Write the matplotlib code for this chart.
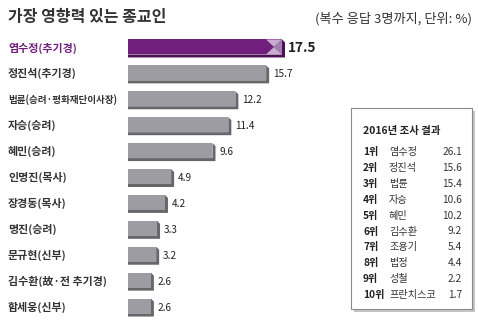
import matplotlib
matplotlib.use("Agg")
import matplotlib.pyplot as plt
from matplotlib.patches import Polygon, Rectangle

plt.rcParams['font.family'] = ['Noto Sans CJK KR', 'DejaVu Sans']

# 2020 survey: most influential religious figures (multiple answers, %)
names = ['염수정(추기경)', '정진석(추기경)', '법륜(승려·평화재단이사장)', '자승(승려)', '혜민(승려)',
         '인명진(목사)', '장경동(목사)', '명진(승려)', '문규현(신부)', '김수환(故·전 추기경)', '함세웅(신부)']
values = [17.5, 15.7, 12.2, 11.4, 9.6, 4.9, 4.2, 3.3, 3.2, 2.6, 2.6]

# 2016 survey results for the side table
ranks_2016 = ['1위', '2위', '3위', '4위', '5위', '6위', '7위', '8위', '9위', '10위']
names_2016 = ['염수정', '정진석', '법륜', '자승', '혜민', '김수환', '조용기', '법정', '성철', '프란치스코']
values_2016 = [26.1, 15.6, 15.4, 10.6, 10.2, 9.2, 5.4, 4.4, 2.2, 1.7]

W, H = 478, 324
fig = plt.figure(figsize=(W / 100, H / 100), dpi=100)
renderer = fig.canvas.get_renderer()


def fx(px):
    return px / W


def fy(py):
    return 1 - py / H


PURPLE = '#70207c'
PURPLE_DARK = '#4a1253'
GRAY = '#9c9ca2'
GRAY_DARK = '#66666b'

# bar axes: starts at x=128px, 8.8px per percent, rows 25.9px apart
x0, y_top, y_bot = 128, 34, 319
px_per_unit = 8.8
ax = fig.add_axes([fx(x0), fy(y_bot), fx(W - x0), (y_bot - y_top) / H])
ax.set_xlim(0, (W - x0) / px_per_unit)
ax.set_ylim(len(values) - 0.5, -0.5)
ax.axis('off')

row_px = (y_bot - y_top) / len(values)
h = 15 / row_px
dx = 3 / px_per_unit
dy = 3 / row_px

for i, (name, v) in enumerate(zip(names, values)):
    top, bot = i - h / 2, i + h / 2
    face = PURPLE if i == 0 else GRAY
    dark = PURPLE_DARK if i == 0 else GRAY_DARK
    ax.add_patch(Polygon([(0, bot), (v, bot), (v, top), (v + dx, top + dy),
                          (v + dx, bot + dy), (0, bot + dy)],
                         closed=True, facecolor=dark, edgecolor='none'))
    ax.barh(i, v, height=h, color=face, edgecolor='none')
    if i == 0:
        # bevelled tip on the top bar
        w = 16 / px_per_unit
        xs, mid = v - w, i
        ax.add_patch(Polygon([(xs, top), (v, top), (v - w / 2, mid)], facecolor='#c9abd0', edgecolor='none'))
        ax.add_patch(Polygon([(xs, bot), (v, bot), (v - w / 2, mid)], facecolor='#c9abd0', edgecolor='none'))
        ax.add_patch(Polygon([(v, top), (v, bot), (v - w / 2, mid)], facecolor='#a37fae', edgecolor='none'))
        ax.text(v + dx + 3 / px_per_unit, i + dy / 2, f'{v:.1f}', va='center', ha='left',
                fontsize=9.8, fontweight='bold', color='#222222')
    else:
        ax.text(v + dx + 4 / px_per_unit, i + dy / 2, f'{v:.1f}', va='center', ha='left',
                fontsize=7.2, color='#222222')
    t = fig.text(fx(8), fy(y_top + row_px * (i + 0.5) + 1), name, ha='left', va='center',
                 fontsize=7.9, fontweight='bold', color=PURPLE if i == 0 else '#333333')
    # shrink long labels so they stay clear of the bars
    wpx = t.get_window_extent(renderer).width
    if wpx > 110:
        t.set_fontsize(7.9 * 110 / wpx)

# title and note
fig.text(fx(8), fy(17), '가장 영향력 있는 종교인', ha='left', va='center',
         fontsize=11.5, fontweight='bold', color='#333333')
fig.text(fx(472), fy(19), '(복수 응답 3명까지, 단위: %)', ha='right', va='center',
         fontsize=9.5, color='#333333')

# side table with drop shadow
bx, by, bw, bh = 351, 108, 121, 201
fig.patches.append(Rectangle((fx(bx + 3), fy(by + bh + 3)), bw / W, bh / H,
                             transform=fig.transFigure, facecolor='#c4c4c4', edgecolor='none'))
fig.patches.append(Rectangle((fx(bx), fy(by + bh)), bw / W, bh / H,
                             transform=fig.transFigure, facecolor='white', edgecolor='#8a8a8a', lw=0.8))
fig.text(fx(363), fy(131), '2016년 조사 결과', ha='left', va='center',
         fontsize=7.5, fontweight='bold', color='#222222')
for k, (r, n, v) in enumerate(zip(ranks_2016, names_2016, values_2016)):
    yy = 152 + k * 15.9
    fig.text(fx(363), fy(yy), r, ha='left', va='center', fontsize=7.3, fontweight='bold', color='#222222')
    fig.text(fx(389), fy(yy), n, ha='left', va='center', fontsize=7.3, color='#333333')
    fig.text(fx(462), fy(yy), f'{v:.1f}', ha='right', va='center', fontsize=7.3, color='#333333')

fig.savefig('out.png', dpi=100)
